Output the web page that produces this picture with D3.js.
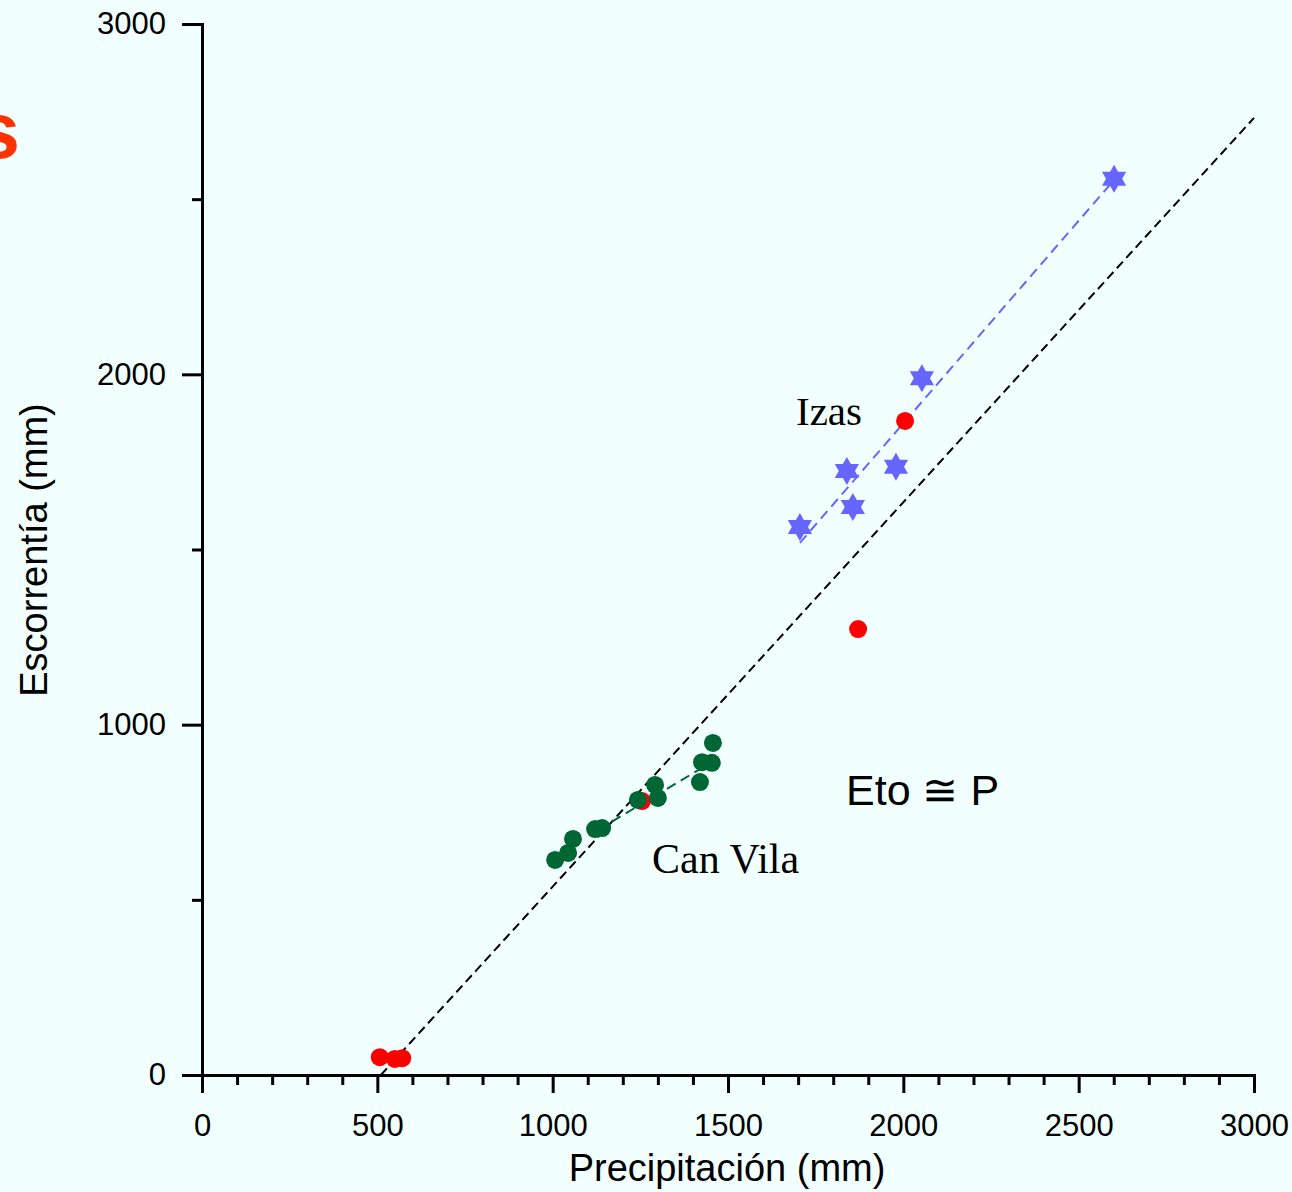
<!DOCTYPE html>
<html>
<head>
<meta charset="utf-8">
<script src="https://cdn.jsdelivr.net/npm/d3@7"></script>
<style>
  html, body { margin: 0; padding: 0; background: #f2ffff; }
  svg { display: block; }
</style>
</head>
<body>
<div id="chart"></div>
<script>
// values
var xTicks = [0, 500, 1000, 1500, 2000, 2500, 3000];
var yTicks = [0, 1000, 2000, 3000];

// red points
var redX = [507, 550, 571, 1255, 1871, 2005];
var redY = [51, 46, 48, 782, 1273, 1867];

// Can Vila (green)
var canVilaX = [1007, 1044, 1058, 1121, 1141, 1243, 1292, 1300, 1420, 1426, 1454, 1457];
var canVilaY = [614, 634, 674, 702, 705, 785, 828, 791, 836, 893, 891, 948];
var canVilaFitX = [1130, 1440];
var canVilaFitY = [700, 885];

// Izas (blue stars)
var izasX = [1705, 1839, 1856, 1979, 2053, 2601];
var izasY = [1564, 1724, 1621, 1736, 1989, 2558];
var izasFitX = [1705, 2601];
var izasFitY = [1519, 2555];

// Eto = P line
var etoX = [510, 3000];
var etoY = [0, 2732];

var W = 1292, H = 1192;
var margin = { left: 202, right: 38, top: 24, bottom: 117 };
var sans = "Arial, 'Liberation Sans', sans-serif";
var serif = "'Times New Roman', 'Liberation Serif', serif";

var svg = d3.select("#chart").append("svg")
  .attr("width", W).attr("height", H);

svg.append("rect").attr("width", W).attr("height", H).attr("fill", "#f2ffff");

var xScale = d3.scaleLinear().domain([0, 3000]).range([margin.left, W - margin.right]);
var yScale = d3.scaleLinear().domain([0, 3000]).range([H - margin.bottom, margin.top]);

var zip = function(xs, ys) {
  return xs.map(function(x, i) { return [x, ys[i]]; });
};

var line = d3.line()
  .x(function(d) { return xScale(d[0]); })
  .y(function(d) { return yScale(d[1]); });

// axes
var xMinor = d3.range(0, 3001, 100).filter(function(v) { return v % 500 !== 0; });
var yMinor = [500, 1500, 2500];

var gx = svg.append("g")
  .attr("transform", "translate(0," + yScale(0) + ")");
gx.call(d3.axisBottom(xScale).tickValues(xMinor).tickSize(10).tickFormat(""));
gx.append("g").call(d3.axisBottom(xScale).tickValues(xTicks).tickSize(18).tickPadding(21).tickFormat(d3.format("d")));
gx.selectAll(".domain").attr("stroke-width", 3);
gx.selectAll("line").attr("stroke-width", 3);
gx.selectAll("text").attr("font-family", sans).attr("font-size", 31).attr("fill", "#000");

var gy = svg.append("g")
  .attr("transform", "translate(" + xScale(0) + ",0)");
gy.call(d3.axisLeft(yScale).tickValues(yMinor).tickSize(10).tickFormat(""));
gy.append("g").call(d3.axisLeft(yScale).tickValues(yTicks).tickSize(20).tickPadding(16).tickFormat(d3.format("d")));
gy.selectAll(".domain").attr("stroke-width", 3);
gy.selectAll("line").attr("stroke-width", 3);
gy.selectAll("text").attr("font-family", sans).attr("font-size", 31).attr("fill", "#000");

// axis titles
svg.append("text")
  .attr("x", 727).attr("y", 1181)
  .attr("text-anchor", "middle")
  .attr("font-family", sans)
  .attr("font-size", 38)
  .text("Precipitación (mm)");

svg.append("text")
  .attr("transform", "translate(47,550) rotate(-90)")
  .attr("text-anchor", "middle")
  .attr("font-family", sans)
  .attr("font-size", 38)
  .text("Escorrentía (mm)");

// title letter cut off at the left edge, as in the picture
svg.append("text")
  .attr("x", 20).attr("y", 158)
  .attr("text-anchor", "end")
  .attr("font-family", sans)
  .attr("font-weight", "bold")
  .attr("font-size", 80)
  .attr("fill", "#ff3300")
  .text("s");

// dashed lines
svg.append("path")
  .attr("d", line(zip(etoX, etoY)))
  .attr("stroke", "#000").attr("stroke-width", 2)
  .attr("stroke-dasharray", "9,5").attr("fill", "none");

svg.append("path")
  .attr("d", line(zip(izasFitX, izasFitY)))
  .attr("stroke", "#6666ff").attr("stroke-width", 2)
  .attr("stroke-dasharray", "10,6").attr("fill", "none");

svg.append("path")
  .attr("d", line(zip(canVilaFitX, canVilaFitY)))
  .attr("stroke", "#006633").attr("stroke-width", 2)
  .attr("stroke-dasharray", "10,6").attr("fill", "none");

// red points
svg.append("g").selectAll("circle")
  .data(zip(redX, redY))
  .enter().append("circle")
  .attr("cx", function(d) { return xScale(d[0]); })
  .attr("cy", function(d) { return yScale(d[1]); })
  .attr("r", 9)
  .attr("fill", "#ff0000");

// Can Vila points
svg.append("g").selectAll("circle")
  .data(zip(canVilaX, canVilaY))
  .enter().append("circle")
  .attr("cx", function(d) { return xScale(d[0]); })
  .attr("cy", function(d) { return yScale(d[1]); })
  .attr("r", 9)
  .attr("fill", "#006633");

// Izas stars (six pointed)
var hexagram = function(R) {
  var r = R / Math.sqrt(3);
  var pts = [];
  for (var i = 0; i < 12; i++) {
    var a = -Math.PI / 2 + i * Math.PI / 6;
    var rad = i % 2 === 0 ? R : r;
    pts.push([rad * Math.cos(a), rad * Math.sin(a)]);
  }
  return "M" + pts.map(function(p) { return p[0].toFixed(2) + "," + p[1].toFixed(2); }).join("L") + "Z";
};

svg.append("g").selectAll("path")
  .data(zip(izasX, izasY))
  .enter().append("path")
  .attr("transform", function(d) { return "translate(" + xScale(d[0]) + "," + yScale(d[1]) + ")"; })
  .attr("d", hexagram(14))
  .attr("fill", "#6666ff");

// labels
svg.append("text")
  .attr("x", 796).attr("y", 425)
  .attr("font-family", serif)
  .attr("font-size", 41)
  .text("Izas");

svg.append("text")
  .attr("x", 652).attr("y", 873)
  .attr("font-family", serif)
  .attr("font-size", 42)
  .text("Can Vila");

svg.append("text")
  .attr("x", 846).attr("y", 805)
  .attr("font-family", sans)
  .attr("font-size", 43)
  .text("Eto \u2245 P");
</script>
</body>
</html>
